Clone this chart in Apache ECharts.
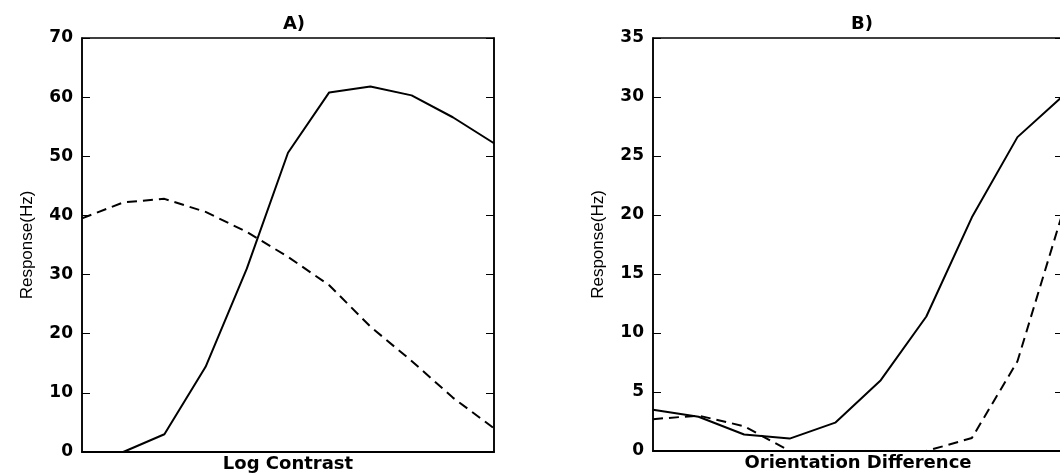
<!DOCTYPE html>
<html>
<head>
<meta charset="utf-8">
<script src="https://cdn.jsdelivr.net/npm/echarts@6/dist/echarts.min.js"></script>
<style>
  html, body { margin: 0; padding: 0; background: #fff; }
  #chart { width: 1060px; height: 474px; }
</style>
</head>
<body>
<div id="chart"></div>
<script>
// panel A: log contrast, 11 samples
var contrastSteps = ['0', '1', '2', '3', '4', '5', '6', '7', '8', '9', '10'];
var contrastSolid = [0, 0, 3, 14.4, 31, 50.6, 60.8, 61.8, 60.3, 56.6, 52.2];
var contrastDashed = [39.5, 42.2, 42.8, 40.6, 37.2, 33, 28.2, 21.2, 15.4, 9.2, 4];

// panel B: orientation difference, 10 samples
var orientSteps = ['0', '1', '2', '3', '4', '5', '6', '7', '8', '9'];
var orientSolid = [3.5, 2.9, 1.4, 1.05, 2.4, 6, 11.4, 19.8, 26.6, 30.1];
var orientDashed = [2.7, 3, 2.1, 0, 0, 0, 0, 1.1, 7.6, 20.3];

var ticksA = { min: 0, max: 70, interval: 10 };
var ticksB = { min: 0, max: 35, interval: 5 };

var myChart = echarts.init(document.getElementById('chart'));

var boldFont = 'DejaVu Sans';
var nameFont = '"Liberation Sans Narrow", "Liberation Sans", sans-serif';

function xAxisFor(idx, cats, name) {
  return {
    type: 'category',
    gridIndex: idx,
    data: cats,
    boundaryGap: false,
    name: name,
    nameLocation: 'middle',
    nameGap: 3,
    nameTextStyle: { fontFamily: boldFont, fontWeight: 'bold', fontSize: 18, color: '#000' },
    axisLine: { lineStyle: { color: '#000', width: 2 } },
    axisTick: { show: false },
    axisLabel: { show: false },
    splitLine: { show: false }
  };
}

function yAxisFor(idx, t, showName) {
  return {
    type: 'value',
    gridIndex: idx,
    min: t.min,
    max: t.max,
    interval: t.interval,
    name: showName ? 'Response(Hz)' : '',
    nameLocation: 'middle',
    nameRotate: 90,
    nameGap: 46,
    nameTextStyle: { fontFamily: nameFont, fontSize: 17, color: '#000' },
    axisLine: { show: true, lineStyle: { color: '#000', width: 1.5 } },
    axisTick: { show: true, inside: true, length: 8, lineStyle: { color: '#000', width: 1 } },
    axisLabel: showName ? {
      fontFamily: boldFont, fontWeight: 'bold', fontSize: 17, color: '#000', margin: 9
    } : { show: false },
    splitLine: { show: false }
  };
}

function yRightFor(idx, t) {
  var ax = yAxisFor(idx, t, false);
  ax.position = 'right';
  return ax;
}

function lineSeries(xi, yi, data, dashed) {
  return {
    type: 'line',
    xAxisIndex: xi,
    yAxisIndex: yi,
    data: data,
    symbol: 'none',
    silent: true,
    lineStyle: { color: '#000', width: 2, type: dashed ? [10, 6] : 'solid' }
  };
}

var option = {
  backgroundColor: '#fff',
  animation: false,
  title: [
    { text: 'A)', left: 289, top: 10, textAlign: 'center',
      textStyle: { fontFamily: boldFont, fontWeight: 'bold', fontSize: 18, color: '#000' } },
    { text: 'B)', left: 857, top: 10, textAlign: 'center',
      textStyle: { fontFamily: boldFont, fontWeight: 'bold', fontSize: 18, color: '#000' } }
  ],
  grid: [
    { left: 82, top: 38, width: 412, height: 414, outerBoundsMode: 'none',
      show: true, borderColor: '#000', borderWidth: 1.5 },
    { left: 653, top: 38, width: 410, height: 413, outerBoundsMode: 'none',
      show: true, borderColor: '#000', borderWidth: 1.5 }
  ],
  xAxis: [
    xAxisFor(0, contrastSteps, 'Log Contrast'),
    xAxisFor(1, orientSteps, 'Orientation Difference')
  ],
  yAxis: [
    yAxisFor(0, ticksA, true),
    yRightFor(0, ticksA),
    yAxisFor(1, ticksB, true),
    yRightFor(1, ticksB)
  ],
  series: [
    lineSeries(0, 0, contrastSolid, false),
    lineSeries(0, 0, contrastDashed, true),
    lineSeries(1, 2, orientSolid, false),
    lineSeries(1, 2, orientDashed, true)
  ]
};

myChart.setOption(option);
</script>
</body>
</html>
